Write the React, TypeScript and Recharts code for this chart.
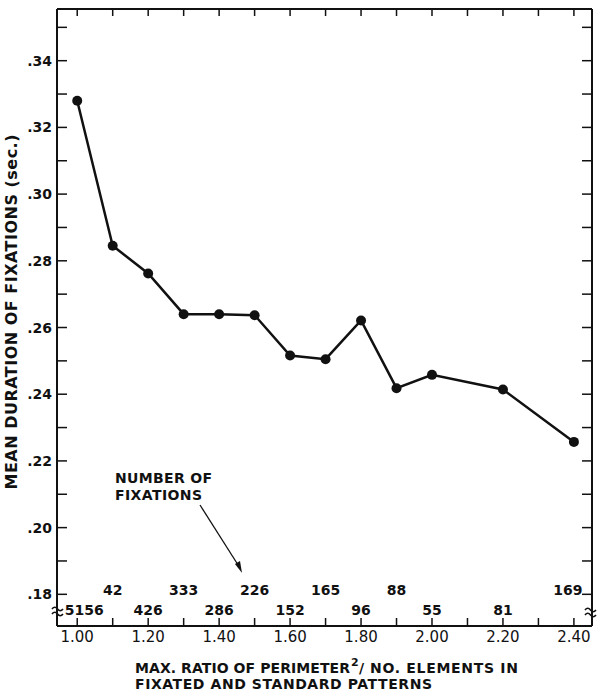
import { LineChart, Line, XAxis, YAxis, ReferenceLine, Customized } from 'recharts';

const INK = '#111';
const FONT = '"DejaVu Sans", Verdana, sans-serif';
const X_DOMAIN = [0.943, 2.451];
const Y_DOMAIN = [0.1705, 0.3555];

// max ratio of perimeter^2 / no. elements
const ratios = [1.0, 1.1, 1.2, 1.3, 1.4, 1.5, 1.6, 1.7, 1.8, 1.9, 2.0, 2.2, 2.4];
// mean duration of fixations (sec.)
const durations = [0.328, 0.2845, 0.2762, 0.264, 0.264, 0.2637, 0.2516, 0.2505, 0.2621, 0.2418, 0.2458, 0.2414, 0.2257];
// number of fixations
const fixations = [5156, 42, 426, 333, 286, 226, 152, 165, 96, 88, 55, 81, 169];
const fixationRow = ['low', 'up', 'low', 'up', 'low', 'up', 'low', 'up', 'low', 'up', 'low', 'low', 'up'];

const xTicks = [1.0, 1.1, 1.2, 1.3, 1.4, 1.5, 1.6, 1.7, 1.8, 1.9, 2.0, 2.1, 2.2, 2.3, 2.4];
const yTicks = [0.18, 0.19, 0.2, 0.21, 0.22, 0.23, 0.24, 0.25, 0.26, 0.27, 0.28, 0.29, 0.3, 0.31, 0.32, 0.33, 0.34, 0.35];

const data = ratios.map((r, i) => ({ ratio: r, duration: durations[i] }));

const isMajorX = (v: number) => Math.round(v * 10) % 2 === 0;
const isMajorY = (v: number) => Math.round(v * 100) % 2 === 0;

// right-frame tick length in x units (~10px of a 535px plot)
const RIGHT_TICK = ((X_DOMAIN[1] - X_DOMAIN[0]) * 10) / 535;

function BottomTick({ x, y, payload }: any) {
  const v = payload.value;
  const i = ratios.findIndex((r) => Math.abs(r - v) < 1e-6);
  return (
    <g>
      <line x1={x} y1={y} x2={x} y2={y - 8} stroke={INK} strokeWidth={1.5} />
      {isMajorX(v) && (
        <text x={x} y={y + 16} textAnchor="middle" fontSize={15} fill={INK} fontFamily={FONT}>
          {v.toFixed(2)}
        </text>
      )}
      {i >= 0 && (
        <text
          x={x + (i === 0 ? 7 : i === ratios.length - 1 ? -6 : 0)}
          y={fixationRow[i] === 'up' ? y - 31 : y - 11}
          textAnchor="middle"
          fontSize={14}
          fontWeight="bold"
          fill={INK}
          fontFamily={FONT}
        >
          {fixations[i]}
        </text>
      )}
    </g>
  );
}

function TopTick({ x, y }: any) {
  return <line x1={x} y1={y} x2={x} y2={y + 7} stroke={INK} strokeWidth={1.5} />;
}

function LeftTick({ x, y, payload }: any) {
  const v = payload.value;
  return (
    <g>
      <line x1={x} y1={y} x2={x + 10} y2={y} stroke={INK} strokeWidth={1.5} />
      {isMajorY(v) && (
        <text x={x - 5} y={y + 5} textAnchor="end" fontSize={14} fontWeight="bold" fill={INK} fontFamily={FONT}>
          {v.toFixed(2).replace(/^0/, '')}
        </text>
      )}
    </g>
  );
}

function Decorations() {
  const txt = { fill: INK, fontFamily: FONT, fontWeight: 'bold' as const };
  return (
    <g>
      <text
        x={17}
        y={312}
        transform="rotate(-90 17 312)"
        textAnchor="middle"
        fontSize={16}
        textLength={355}
        lengthAdjust="spacing"
        {...txt}
      >
        MEAN DURATION OF FIXATIONS (sec.)
      </text>
      <text x={135} y={673} fontSize={14} textLength={215} lengthAdjust="spacing" {...txt}>
        MAX. RATIO OF PERIMETER
      </text>
      <text x={351} y={666} fontSize={11} {...txt}>2</text>
      <text x={359} y={673} fontSize={14} {...txt}>/</text>
      <text x={370} y={673} fontSize={14} textLength={148} lengthAdjust="spacing" {...txt}>
        NO. ELEMENTS IN
      </text>
      <text x={135} y={689} fontSize={14} textLength={297} lengthAdjust="spacing" {...txt}>
        FIXATED AND STANDARD PATTERNS
      </text>
      <text x={115} y={483} fontSize={14} textLength={97} lengthAdjust="spacing" {...txt}>NUMBER OF</text>
      <text x={115} y={500} fontSize={14} textLength={87} lengthAdjust="spacing" {...txt}>FIXATIONS</text>
      <line x1={200} y1={505} x2={240} y2={568} stroke={INK} strokeWidth={1.3} />
      <path d="M 242 573 L 235 564 L 240 561 Z" fill={INK} />
      <rect x={54} y={605} width={6} height={12} fill="#fff" />
      <path d="M 52 609 q 2.75 -3.5 5.5 0 t 5.5 0 M 52 614 q 2.75 -3.5 5.5 0 t 5.5 0" fill="none" stroke={INK} strokeWidth={1.6} />
      <rect x={589} y={606} width={6} height={12} fill="#fff" />
      <path d="M 585 610 q 2.75 -3.5 5.5 0 t 5.5 0 M 585 615 q 2.75 -3.5 5.5 0 t 5.5 0" fill="none" stroke={INK} strokeWidth={1.6} />
    </g>
  );
}

export default function App() {
  return (
    <div style={{ position: 'absolute', left: 0, top: 0, background: '#fff' }}>
      <LineChart width={597} height={696} data={data} margin={{ top: 8, right: 5, bottom: 10, left: 0 }}>
        <XAxis
          dataKey="ratio"
          type="number"
          domain={X_DOMAIN}
          ticks={xTicks}
          allowDataOverflow
          height={60}
          tickSize={0}
          tickMargin={0}
          tickLine={false}
          axisLine={{ stroke: INK, strokeWidth: 2 }}
          tick={<BottomTick />}
          interval={0}
        />
        <XAxis
          xAxisId="top"
          dataKey="ratio"
          orientation="top"
          type="number"
          domain={X_DOMAIN}
          ticks={xTicks}
          allowDataOverflow
          height={1}
          tickSize={0}
          tickMargin={0}
          tickLine={false}
          axisLine={{ stroke: INK, strokeWidth: 2 }}
          tick={<TopTick />}
          interval={0}
        />
        <YAxis
          type="number"
          domain={Y_DOMAIN}
          ticks={yTicks}
          allowDataOverflow
          width={57}
          tickSize={0}
          tickMargin={0}
          tickLine={false}
          axisLine={{ stroke: INK, strokeWidth: 2 }}
          tick={<LeftTick />}
          interval={0}
        />
        {/* right frame edge and its inward ticks */}
        <ReferenceLine x={X_DOMAIN[1]} stroke={INK} strokeWidth={2} ifOverflow="visible" />
        {yTicks.map((v) => (
          <ReferenceLine
            key={v}
            segment={[
              { x: X_DOMAIN[1] - RIGHT_TICK, y: v },
              { x: X_DOMAIN[1], y: v },
            ]}
            stroke={INK}
            strokeWidth={1.5}
            ifOverflow="visible"
          />
        ))}
        <Line
          dataKey="duration"
          type="linear"
          stroke={INK}
          strokeWidth={2.5}
          dot={{ r: 5, fill: INK, stroke: INK, strokeWidth: 0 }}
          isAnimationActive={false}
        />
        <Customized component={Decorations} />
      </LineChart>
    </div>
  );
}
